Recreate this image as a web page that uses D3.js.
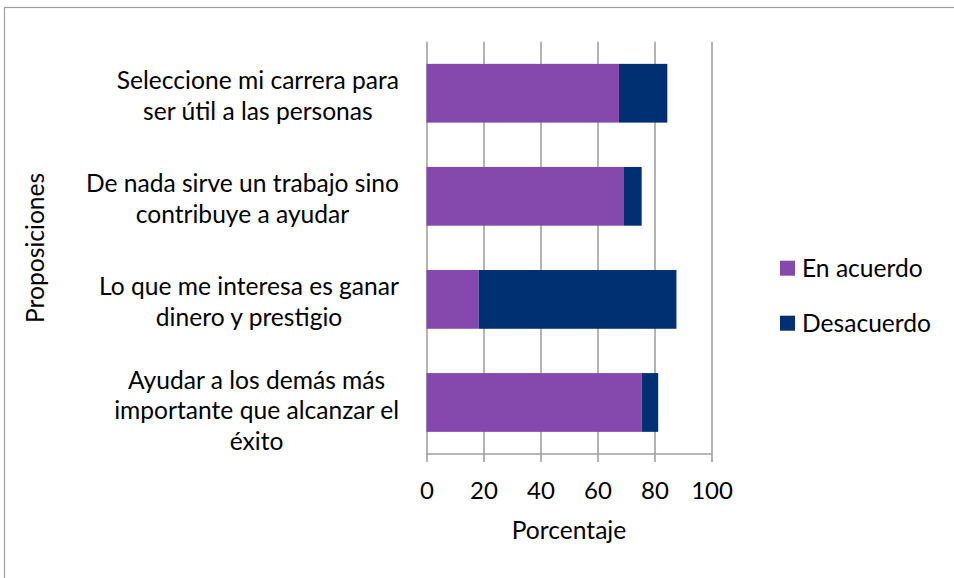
<!DOCTYPE html>
<html>
<head>
<meta charset="utf-8">
<script src="https://cdn.jsdelivr.net/npm/d3@7"></script>
<style>
  body { margin: 0; background: #fff; }
  text { font-family: Lato, "Open Sans", sans-serif; fill: #000; }
</style>
</head>
<body>
<svg id="chart" width="954" height="578"></svg>
<script>
// data (top to bottom)
var categories = [
  ["Seleccione mi carrera para", "ser útil a las personas"],
  ["De nada sirve un trabajo sino", "contribuye a ayudar"],
  ["Lo que me interesa es ganar", "dinero y prestigio"],
  ["Ayudar a los demás más", "importante que alcanzar el", "éxito"]
];
var enAcuerdo  = [67.5, 69.3, 18.3, 75.5];
var desacuerdo = [17.0, 6.2, 69.4, 5.8];
var seriesNames = ["En acuerdo", "Desacuerdo"];
var xTicks = [0, 20, 40, 60, 80, 100];

var colors = ["#8548ac", "#003072"];
var fs = "24.6px";

var svg = d3.select("#chart");
var plot = {left: 426.5, right: 711.5, top: 41.7, bottom: 454};

// outer frame (only left and top edges show)
svg.append("rect")
    .attr("x", 4.5).attr("y", 7.5)
    .attr("width", 1200).attr("height", 1200)
    .style("fill", "none").style("stroke", "#a0a0a0").style("stroke-width", 1.2);

var x = d3.scaleLinear().domain([0, 100]).range([plot.left, plot.right]);
var y = d3.scaleBand()
    .domain(d3.range(categories.length))
    .range([plot.top, plot.bottom])
    .paddingInner(0.43)
    .paddingOuter(0.215);

// gridlines + tick marks + tick labels
var ax = svg.append("g")
    .attr("transform", "translate(0," + (plot.bottom + 8) + ")")
    .call(d3.axisBottom(x).tickValues(xTicks).tickSize(-(plot.bottom + 8 - plot.top)).tickSizeOuter(0));
ax.select(".domain").remove();
ax.selectAll("line").style("stroke", "#a0a0a0").style("stroke-width", 1.6);
ax.selectAll("text")
    .attr("y", 37).attr("dy", 0)
    .style("font-size", "24px")
    .style("font-family", "Lato, sans-serif")
    .style("fill", "#000");

svg.append("line")
    .attr("x1", x(0)).attr("x2", x(100))
    .attr("y1", plot.bottom).attr("y2", plot.bottom)
    .style("stroke", "#a0a0a0").style("stroke-width", 1.6);

// stacked bars
var stacks = categories.map(function(c, i) {
  return [
    {i: i, s: 0, x0: 0, x1: enAcuerdo[i]},
    {i: i, s: 1, x0: enAcuerdo[i], x1: enAcuerdo[i] + desacuerdo[i]}
  ];
});

svg.append("g").selectAll("g")
    .data(stacks)
  .enter().append("g")
  .selectAll("rect")
    .data(function(d) { return d; })
  .enter().append("rect")
    .attr("x", function(d) { return x(d.x0); })
    .attr("width", function(d) { return x(d.x1) - x(d.x0); })
    .attr("y", function(d) { return y(d.i); })
    .attr("height", y.bandwidth())
    .style("fill", function(d) { return colors[d.s]; });

// category labels: block right edge near 398, lines centred within block
var lineH = 30.7;
var labels = svg.append("g");
categories.forEach(function(lines, i) {
  var g = labels.append("g");
  var cy = y(i) + y.bandwidth() / 2;
  var mid = cy + (lines.length === 3 ? 17 : 11);
  var t = g.selectAll("text")
      .data(lines)
    .enter().append("text")
      .attr("y", function(d, k) { return mid + (k - (lines.length - 1) / 2) * lineH; })
      .style("font-size", fs)
      .text(function(d) { return d; });
  var maxW = 0;
  t.each(function() { maxW = Math.max(maxW, this.getComputedTextLength()); });
  t.attr("x", 399 - maxW / 2).attr("text-anchor", "middle");
});

// axis titles
svg.append("text")
    .attr("x", (plot.left + plot.right) / 2)
    .attr("y", 539)
    .attr("text-anchor", "middle")
    .style("font-size", fs)
    .text("Porcentaje");

svg.append("text")
    .attr("transform", "translate(44," + ((plot.top + plot.bottom) / 2) + ")rotate(-90)")
    .attr("text-anchor", "middle")
    .style("font-size", fs)
    .text("Proposiciones");

// legend
var legend = svg.append("g").selectAll("g")
    .data(seriesNames)
  .enter().append("g")
    .attr("transform", function(d, i) { return "translate(780," + (260.7 + i * 55) + ")"; });
legend.append("rect")
    .attr("width", 15).attr("height", 15)
    .style("fill", function(d, i) { return colors[i]; });
legend.append("text")
    .attr("x", 22).attr("y", 16.5)
    .style("font-size", fs)
    .text(function(d) { return d; });
</script>
</body>
</html>
